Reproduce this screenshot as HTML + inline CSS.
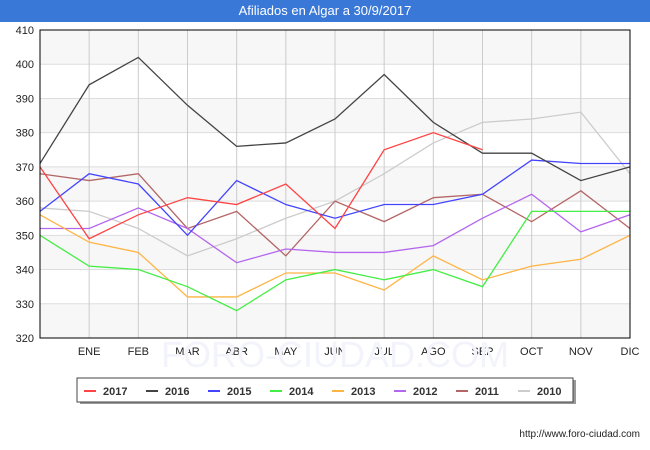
<!DOCTYPE html>
<html><head><meta charset="utf-8"><style>
body{margin:0;width:650px;height:450px;background:#fff;font-family:"Liberation Sans",sans-serif;overflow:hidden}
#title{position:absolute;left:0;top:0;width:650px;height:22px;background:#3a78d8;color:#fff;font-size:13px;line-height:22px;text-align:center}
</style></head><body>
<div id="title">Afiliados en Algar a 30/9/2017</div>
<svg id="chart" width="650" height="450" style="position:absolute;left:0;top:0"></svg>
<script>
const months=["","ENE","FEB","MAR","ABR","MAY","JUN","JUL","AGO","SEP","OCT","NOV","DIC"];
const yTicks=[320,330,340,350,360,370,380,390,400,410];
const seriesNames=["2017","2016","2015","2014","2013","2012","2011","2010"];
const seriesColors=["#ff4444","#444444","#4444ff","#44ee44","#ffb444","#b466ee","#b46666","#cccccc"];
const s2017=[370,349,356,361,359,365,352,375,380,375];
const s2016=[371,394,402,388,376,377,384,397,383,374,374,366,370];
const s2015=[357,368,365,350,366,359,355,359,359,362,372,371,371];
const s2014=[350,341,340,335,328,337,340,337,340,335,357,357,357];
const s2013=[356,348,345,332,332,339,339,334,344,337,341,343,350];
const s2012=[352,352,358,352,342,346,345,345,347,355,362,351,356];
const s2011=[368,366,368,352,357,344,360,354,361,362,354,363,352];
const s2010=[358,357,352,344,349,355,360,368,377,383,384,386,368];
const allSeries=[s2017,s2016,s2015,s2014,s2013,s2012,s2011,s2010];
const L=40,R=630,T=30,B=338;
const xs=i=>L+i*(R-L)/12;
const ys=v=>B-(v-320)*(B-T)/90;
const svg=document.getElementById('chart');
const NS="http://www.w3.org/2000/svg";
function mk(t,a){const e=document.createElementNS(NS,t);for(const k in a)e.setAttribute(k,a[k]);svg.appendChild(e);return e;}
for(let i=0;i<9;i++){const r=mk('rect',{x:L,y:ys(yTicks[i+1]),width:R-L,height:ys(yTicks[i])-ys(yTicks[i+1]),fill:i%2?'#fff':'#f7f7f7'});

}
yTicks.forEach(v=>{const l=mk('line',{x1:L,x2:R,y1:ys(v),y2:ys(v),stroke:'#dddddd'});


const t=mk('text',{x:L-6,y:ys(v)+4,'text-anchor':'end','font-size':11,fill:'#222'});t.textContent=v;

});
months.forEach((m,i)=>{if(i>0){const l=mk('line',{x1:xs(i),x2:xs(i),y1:T,y2:B,stroke:'#cccccc'});

}
const t=mk('text',{x:xs(i),y:B+17,'text-anchor':'middle','font-size':11,fill:'#222'});t.textContent=m;

});
for(let k=allSeries.length-1;k>=0;k--){const p=mk('polyline',{points:allSeries[k].map((v,i)=>xs(i)+','+ys(v)).join(' '),fill:'none',stroke:seriesColors[k],'stroke-width':1.3});

}
const fr=mk('rect',{x:L,y:T,width:R-L,height:B-T,fill:'none',stroke:'#000'});


const wm=mk('text',{x:335,y:367,'text-anchor':'middle','font-size':36,fill:'#f3f4fb'});wm.textContent='FORO-CIUDAD.COM';


const sh=mk('rect',{x:80,y:380,width:496,height:24,fill:'#999'});


const lg=mk('rect',{x:77,y:378,width:496,height:24,fill:'#fff',stroke:'#444'});


seriesNames.forEach((n,k)=>{const x0=84+k*62;
const l=mk('line',{x1:x0,x2:x0+12,y1:391,y2:391,stroke:seriesColors[k],'stroke-width':2});


const t=mk('text',{x:x0+19,y:395,'font-size':11,'font-weight':'bold',fill:'#333'});t.textContent=n;

});
const u=mk('text',{x:640,y:437,'text-anchor':'end','font-size':10,fill:'#222'});u.textContent='http://www.foro-ciudad.com';


</script>
</body></html>
